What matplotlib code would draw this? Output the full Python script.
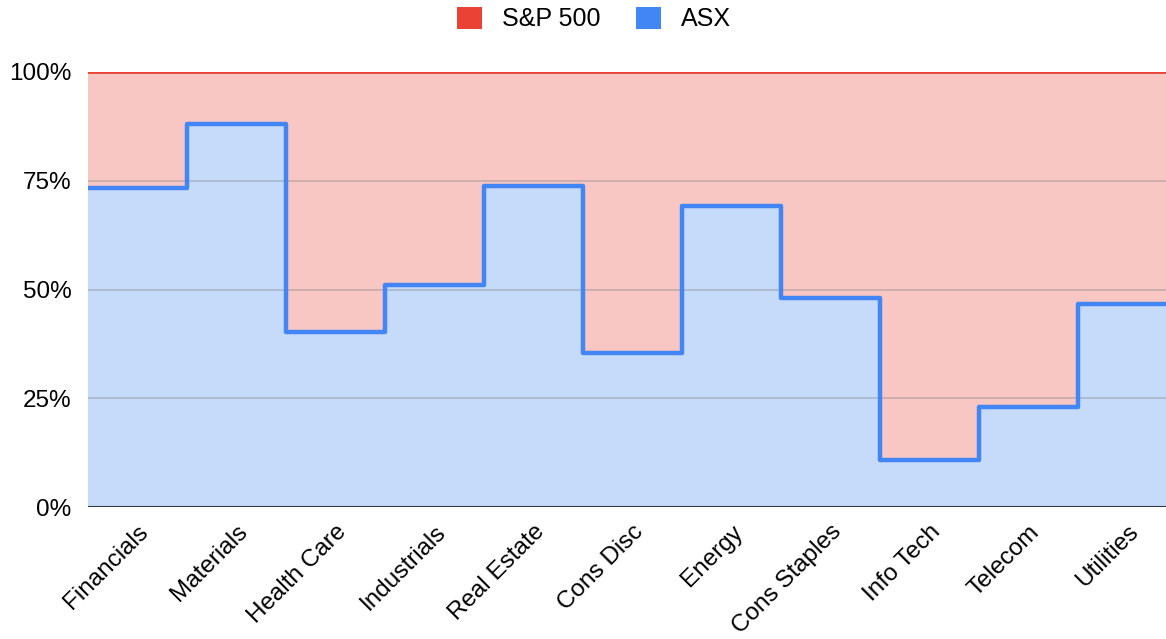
import numpy as np
import matplotlib.pyplot as plt
from matplotlib.patches import Patch

# sector shares, ASX vs S&P 500 (100% stacked)
sectors = ["Financials", "Materials", "Health Care", "Industrials", "Real Estate",
           "Cons Disc", "Energy", "Cons Staples", "Info Tech", "Telecom", "Utilities"]
asx = [73.3, 88.0, 40.2, 51.0, 73.8, 35.4, 69.2, 48.0, 10.8, 23.0, 46.7]
sp500 = [100 - v for v in asx]
yticks = [0, 25, 50, 75, 100]

plt.rcParams['font.family'] = ['Liberation Sans', 'DejaVu Sans']

red = '#EA4335'
blue = '#4285F4'

fig = plt.figure(figsize=(11.66, 6.39), dpi=100)
ax = fig.add_axes([88 / 1166, 132 / 639, 1 - 88 / 1166, 435 / 639])

n = len(sectors)
edges = np.arange(n + 1)
asx_ext = np.append(asx, asx[-1])
top_ext = asx_ext + np.append(sp500, sp500[-1])

ax.fill_between(edges, 0, asx_ext, step='post', color='#C6DAFA', lw=0, zorder=1)
ax.fill_between(edges, asx_ext, top_ext, step='post', color='#F8C6C3', lw=0, zorder=1)

for y in yticks[1:-1]:
    ax.axhline(y, color='#8a8a8a', alpha=0.45, lw=1.2, zorder=2)

ax.step(edges, top_ext, where='post', color=red, lw=2, zorder=3)
ax.step(edges, asx_ext, where='post', color=blue, lw=3.2, zorder=4,
        solid_joinstyle='round', solid_capstyle='round')
ax.axhline(0, color='#333a44', lw=1.5, zorder=5)

ax.set_xlim(0, (1166 - 88) / 99)
ax.set_ylim(0, 100)
ax.set_yticks(yticks)
ax.set_yticklabels([f"{v}%" for v in yticks], fontsize=17.5)
ax.set_xticks(edges[:-1] + 0.5)
ax.set_xticklabels(sectors, rotation=45, ha='right', rotation_mode='anchor', fontsize=17.5)
ax.tick_params(length=0)
ax.tick_params(axis='y', pad=12)
ax.tick_params(axis='x', pad=10)
for s in ax.spines.values():
    s.set_visible(False)

handles = [Patch(facecolor=red, edgecolor='none', label='S&P 500'),
           Patch(facecolor=blue, edgecolor='none', label='ASX')]
fig.legend(handles=handles, loc='center', bbox_to_anchor=(594 / 1166, 1 - 19 / 639),
           ncol=2, frameon=False, fontsize=18, handlelength=1.0, handleheight=1.0,
           handletextpad=0.8, columnspacing=1.4)

fig.savefig('out.png', dpi=100)
